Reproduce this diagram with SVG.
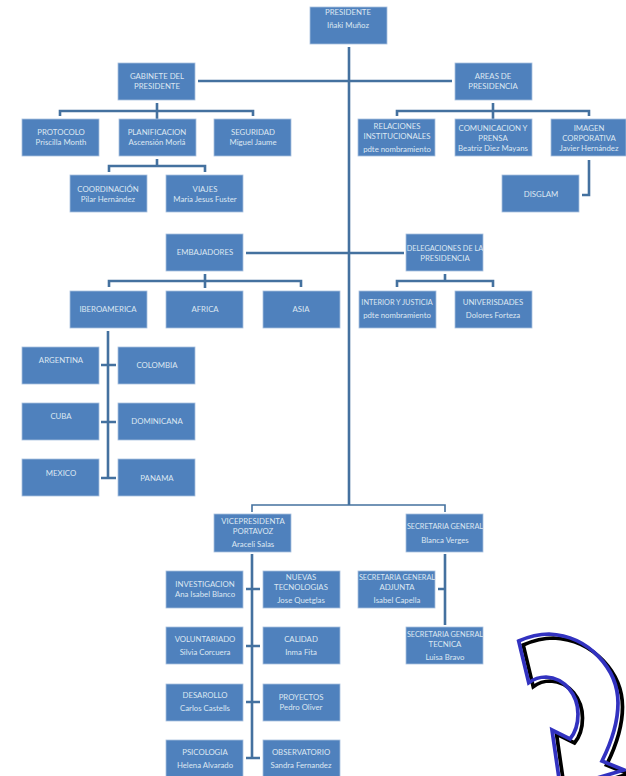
<svg xmlns="http://www.w3.org/2000/svg" width="626" height="776" viewBox="0 0 626 776">
<style>
.n rect{fill:#4f81bd;stroke:#a9c1de;stroke-width:.8}
text{font-family:Lato,"Liberation Sans",sans-serif;font-size:7.8px;fill:#dde7f2;text-anchor:middle}
text.s{font-size:7.3px}
#connectors path{fill:none;stroke:#44719f;stroke-width:2.6}
.arrow{fill:none;stroke-width:3.7;stroke-linejoin:miter}
</style>
<rect width="626" height="776" fill="#fff"/>
<g id="connectors">
<path d="M349 47V505M198 81H452M157 103V111M60 116V111H253V116M157 111V119M157 159V166M109 172V166H205V172M493 103V111M397 116V111H589V116M493 111V119M589 160V195H582M246 253H404M205 274V281M109 287V281H301V287M205 281V288M445 274V281M397 287V281H493V287M108 331V478M101 365H116M101 422H116M101 478H116M246 589H260M246 646H260M246 702H260M246 758H260M252 554V758M445 554V625M438 589H445"/>
<path style="stroke-width:1.6" d="M252 512V505H445V512"/>
</g>
<g id="curved-arrow">
<path class="arrow" stroke="#000" transform="translate(4.5 4)" d="M559.5 782L552 730L570 739C575 733 578 725 578 714C578 695 565 678 546 677C540 677 535 678 528.7 682.7L518.7 641C530 636 540 634 549 634C590 636 618 670 618 703C618 725 610 745 602 761L624 770L597 778"/>
<path class="arrow" stroke="#3232c0" d="M559.5 782L552 730L570 739C575 733 578 725 578 714C578 695 565 678 546 677C540 677 535 678 528.7 682.7L518.7 641C530 636 540 634 549 634C590 636 618 670 618 703C618 725 610 745 602 761L624 770L597 778"/>
</g>
<g id="presidente" class="n"><rect x="310" y="7" width="77" height="37"/><text x="348" y="15">PRESIDENTE</text><text x="348" y="28">Iñaki Muñoz</text></g>
<g id="gabinete" class="n"><rect x="118" y="63" width="77" height="37"/><text x="157" y="79">GABINETE DEL</text><text x="157" y="89">PRESIDENTE</text></g>
<g id="areas" class="n"><rect x="455" y="63" width="77" height="37"/><text x="493" y="79">AREAS DE</text><text x="493" y="89">PRESIDENCIA</text></g>
<g id="protocolo" class="n"><rect x="22" y="119" width="77" height="37"/><text x="61" y="135">PROTOCOLO</text><text x="61" y="145">Priscilla Month</text></g>
<g id="planificacion" class="n"><rect x="119" y="119" width="77" height="37"/><text x="157" y="135">PLANIFICACION</text><text x="157" y="145">Ascensión Morlá</text></g>
<g id="seguridad" class="n"><rect x="214" y="119" width="77" height="37"/><text x="253" y="135">SEGURIDAD</text><text x="253" y="145">Miguel Jaume</text></g>
<g id="coordinacion" class="n"><rect x="70" y="175" width="77" height="37"/><text x="108" y="192">COORDINACIÓN</text><text x="108" y="202">Pilar Hernández</text></g>
<g id="viajes" class="n"><rect x="166" y="175" width="77" height="37"/><text x="205" y="192">VIAJES</text><text x="205" y="202">Maria Jesus Fuster</text></g>
<g id="relaciones" class="n"><rect x="358" y="119" width="77" height="37"/><text x="397" y="129">RELACIONES</text><text x="397" y="139">INSTITUCIONALES</text><text x="397" y="152">pdte nombramiento</text></g>
<g id="comunicacion" class="n"><rect x="455" y="119" width="77" height="37"/><text x="493" y="131">COMUNICACION Y</text><text x="493" y="141">PRENSA</text><text x="493" y="151">Beatriz Diez Mayans</text></g>
<g id="imagen" class="n"><rect x="551" y="119" width="75" height="37"/><text x="589" y="131">IMAGEN</text><text x="589" y="141">CORPORATIVA</text><text x="589" y="151">Javier Hernández</text></g>
<g id="disglam" class="n"><rect x="502" y="175" width="77" height="37"/><text x="541" y="197">DISGLAM</text></g>
<g id="embajadores" class="n"><rect x="166" y="234" width="77" height="37"/><text x="205" y="255">EMBAJADORES</text></g>
<g id="delegaciones" class="n"><rect x="406" y="234" width="77" height="37"/><text class="s" x="445" y="251">DELEGACIONES DE LA</text><text x="445" y="261">PRESIDENCIA</text></g>
<g id="iberoamerica" class="n"><rect x="70" y="291" width="77" height="37"/><text x="108" y="312">IBEROAMERICA</text></g>
<g id="africa" class="n"><rect x="166" y="291" width="77" height="37"/><text x="205" y="312">AFRICA</text></g>
<g id="asia" class="n"><rect x="263" y="291" width="77" height="37"/><text x="301" y="312">ASIA</text></g>
<g id="interior" class="n"><rect x="359" y="291" width="77" height="37"/><text class="s" x="397" y="305">INTERIOR Y JUSTICIA</text><text x="397" y="318">pdte nombramiento</text></g>
<g id="universidades" class="n"><rect x="455" y="291" width="77" height="37"/><text x="493" y="305">UNIVERISDADES</text><text x="493" y="318">Dolores Forteza</text></g>
<g id="argentina" class="n"><rect x="22" y="347" width="77" height="37"/><text x="61" y="363">ARGENTINA</text></g>
<g id="colombia" class="n"><rect x="118" y="347" width="77" height="37"/><text x="157" y="368">COLOMBIA</text></g>
<g id="cuba" class="n"><rect x="22" y="403" width="77" height="37"/><text x="61" y="419">CUBA</text></g>
<g id="dominicana" class="n"><rect x="118" y="403" width="77" height="37"/><text x="157" y="424">DOMINICANA</text></g>
<g id="mexico" class="n"><rect x="22" y="459" width="77" height="37"/><text x="61" y="476">MEXICO</text></g>
<g id="panama" class="n"><rect x="118" y="459" width="77" height="37"/><text x="157" y="481">PANAMA</text></g>
<g id="vicepresidenta" class="n"><rect x="214" y="514" width="77" height="38"/><text x="253" y="524">VICEPRESIDENTA</text><text x="253" y="534">PORTAVOZ</text><text x="253" y="547">Araceli Salas</text></g>
<g id="secretaria" class="n"><rect x="406" y="514" width="77" height="38"/><text class="s" x="445" y="529">SECRETARIA GENERAL</text><text x="445" y="543">Blanca Verges</text></g>
<g id="investigacion" class="n"><rect x="166" y="571" width="77" height="37"/><text x="205" y="587">INVESTIGACION</text><text x="205" y="597">Ana Isabel Blanco</text></g>
<g id="nuevas" class="n"><rect x="263" y="571" width="77" height="37"/><text x="301" y="580">NUEVAS</text><text x="301" y="590">TECNOLOGIAS</text><text x="301" y="603">Jose Quetglas</text></g>
<g id="adjunta" class="n"><rect x="358" y="571" width="77" height="37"/><text class="s" x="397" y="580">SECRETARIA GENERAL</text><text x="397" y="590">ADJUNTA</text><text x="397" y="603">Isabel Capella</text></g>
<g id="voluntariado" class="n"><rect x="166" y="627" width="77" height="37"/><text x="205" y="642">VOLUNTARIADO</text><text x="205" y="655">Silvia Corcuera</text></g>
<g id="calidad" class="n"><rect x="263" y="627" width="77" height="37"/><text x="301" y="642">CALIDAD</text><text x="301" y="655">Inma Fita</text></g>
<g id="tecnica" class="n"><rect x="406" y="627" width="77" height="37"/><text class="s" x="445" y="637">SECRETARIA GENERAL</text><text x="445" y="647">TECNICA</text><text x="445" y="660">Luisa Bravo</text></g>
<g id="desarollo" class="n"><rect x="166" y="684" width="77" height="37"/><text x="205" y="698">DESAROLLO</text><text x="205" y="711">Carlos Castells</text></g>
<g id="proyectos" class="n"><rect x="263" y="684" width="77" height="37"/><text x="301" y="700">PROYECTOS</text><text x="301" y="710">Pedro Oliver</text></g>
<g id="psicologia" class="n"><rect x="166" y="740" width="77" height="37"/><text x="205" y="755">PSICOLOGIA</text><text x="205" y="768">Helena Alvarado</text></g>
<g id="observatorio" class="n"><rect x="263" y="740" width="77" height="37"/><text x="301" y="755">OBSERVATORIO</text><text x="301" y="768">Sandra Fernandez</text></g>
</svg>
